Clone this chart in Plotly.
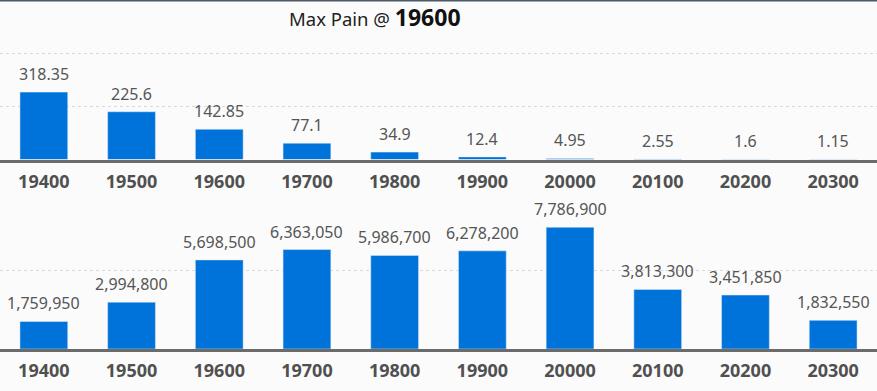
import plotly.graph_objects as go

strikes = ["19400", "19500", "19600", "19700", "19800", "19900", "20000", "20100", "20200", "20300"]
pain_values = [318.35, 225.6, 142.85, 77.1, 34.9, 12.4, 4.95, 2.55, 1.6, 1.15]
pain_labels = ["318.35", "225.6", "142.85", "77.1", "34.9", "12.4", "4.95", "2.55", "1.6", "1.15"]
total_values = [1759950, 2994800, 5698500, 6363050, 5986700, 6278200, 7786900, 3813300, 3451850, 1832550]
title_strike = "19600"

W, H = 877, 391
BAR = "#0073da"
TXT = "#555555"
FONT = "Noto Sans"

def py(px):
    return 1 - px / H

fig = go.Figure()
fig.add_trace(go.Bar(x=strikes, y=pain_values, marker_color=BAR, xaxis="x", yaxis="y",
                     hoverinfo="skip"))
fig.add_trace(go.Bar(x=strikes, y=total_values, marker_color=BAR, xaxis="x2", yaxis="y2",
                     hoverinfo="skip"))

annotations = []
for i, (v, lab) in enumerate(zip(pain_values, pain_labels)):
    annotations.append(dict(x=i, y=v, xref="x", yref="y", text=lab, showarrow=False,
                            yanchor="bottom", yshift=5,
                            font=dict(family=FONT, size=16, color=TXT)))
for i, v in enumerate(total_values):
    annotations.append(dict(x=i, y=v, xref="x2", yref="y2", text=f"{v:,}", showarrow=False,
                            yanchor="bottom", yshift=5,
                            font=dict(family=FONT, size=16, color=TXT)))

annotations.append(dict(x=287 / W, y=py(17), xref="paper", yref="paper", xanchor="left",
                        yanchor="middle", showarrow=False,
                        text=f"<span style='font-size:18.5px'>Max Pain @ </span><b style='font-size:23px;color:#111'>{title_strike}</b>",
                        font=dict(family=FONT, size=18, color="#222")))

axis_common = dict(type="category", range=[-0.5, len(strikes) - 0.5], autorange=False,
                   showline=True, linecolor="#6b6b6b", linewidth=2.5, ticks="",
                   ticklabelstandoff=4,
                   tickfont=dict(family=FONT, size=18, color="#505050", weight="bold"),
                   showgrid=False, fixedrange=True)

top_base, top_top = 159.5, 32.5
bot_base, bot_top = 349.0, 208.3

fig.update_layout(
    width=W, height=H,
    margin=dict(l=0, r=0, t=0, b=0),
    paper_bgcolor="#fbfbfb", plot_bgcolor="#fbfbfb",
    showlegend=False, bargap=0.455,
    xaxis=dict(domain=[0, 1], anchor="y", **axis_common),
    xaxis2=dict(domain=[0, 1], anchor="y2", **axis_common),
    yaxis=dict(domain=[py(top_base), py(top_top)], range=[0, 600], autorange=False, dtick=250,
               showticklabels=False, showgrid=True, gridcolor="#d9d9d9", griddash="dot",
               gridwidth=1, zeroline=False, fixedrange=True),
    yaxis2=dict(domain=[py(bot_base), py(bot_top)], range=[0, 9000000], autorange=False,
                dtick=5000000,
                showticklabels=False, showgrid=True, gridcolor="#d9d9d9", griddash="dot",
                gridwidth=1, zeroline=False, fixedrange=True),
    annotations=annotations,
    shapes=[dict(type="line", xref="paper", yref="paper", x0=0, x1=1, y0=1, y1=1,
                 line=dict(color="#4f5a68", width=3))],
)

fig.write_html("out.html", config={"displayModeBar": False},
               post_script="document.body.style.margin='0';")
